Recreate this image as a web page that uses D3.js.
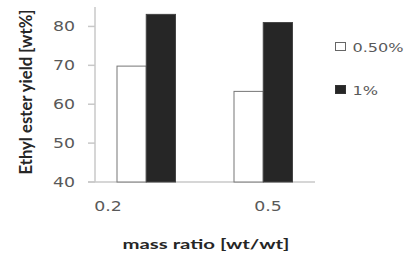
<!DOCTYPE html>
<html>
<head>
<meta charset="utf-8">
<script src="https://cdn.jsdelivr.net/npm/d3@7"></script>
<style>
  body { margin: 0; background: #fff; }
  text { font-family: "DejaVu Sans", Verdana, sans-serif; }
</style>
</head>
<body>
<div id="chart"></div>
<script>
var categories = ['0.2', '0.5'],
  seriesNames = ['0.50%', '1%'],
  seriesColors = ['#ffffff', '#262626'],
  half = [69.8, 63.3],
  one = [83.1, 81.0],
  yTicks = [40, 50, 60, 70, 80];

var width = 420,
  height = 264,
  stretch = 1.24;

var svg = d3.select('#chart')
  .append('svg')
  .attr('width', width)
  .attr('height', height);

var y = d3.scaleLinear().domain([40, 85]).range([182, 7]);

// bar groups
var x = d3.scaleBand().domain(categories).range([87.75, 321.75]).paddingInner(0.5).paddingOuter(0.25);
var xs = d3.scaleBand().domain(seriesNames).range([0, x.bandwidth()]);

// category labels sit further left than the bars in the original
var xLabel = d3.scalePoint().domain(categories).range([108, 268]);

// axes lines
svg.append('line')
  .attr('x1', 95).attr('x2', 95)
  .attr('y1', y(85)).attr('y2', y(40))
  .style('stroke', '#c8c8c8').style('stroke-width', 1.5);

svg.append('line')
  .attr('x1', 88).attr('x2', 315)
  .attr('y1', y(40)).attr('y2', y(40))
  .style('stroke', '#c8c8c8').style('stroke-width', 1.5);

var yAxis = svg.append('g');
yAxis.selectAll('line')
  .data(yTicks)
  .enter()
  .append('line')
  .attr('x1', 88).attr('x2', 95)
  .attr('y1', function (d) { return y(d); })
  .attr('y2', function (d) { return y(d); })
  .style('stroke', '#c8c8c8').style('stroke-width', 1.5);

yAxis.selectAll('text')
  .data(yTicks)
  .enter()
  .append('text')
  .attr('transform', function (d) { return 'translate(75,' + y(d) + ') scale(' + stretch + ',1)'; })
  .attr('dy', '0.36em')
  .attr('text-anchor', 'end')
  .style('font-size', '14px')
  .style('fill', '#595959')
  .text(function (d) { return d; });

svg.append('g').selectAll('text')
  .data(categories)
  .enter()
  .append('text')
  .attr('transform', function (d) { return 'translate(' + xLabel(d) + ',211) scale(' + stretch + ',1)'; })
  .attr('text-anchor', 'middle')
  .style('font-size', '14px')
  .style('fill', '#595959')
  .text(function (d) { return d; });

// bars
var rows = categories.map(function (c, i) {
  return [{cat: c, s: seriesNames[0], v: half[i]}, {cat: c, s: seriesNames[1], v: one[i]}];
});

var groups = svg.append('g').selectAll('g')
  .data(rows)
  .enter()
  .append('g')
  .attr('transform', function (d) { return 'translate(' + x(d[0].cat) + ',0)'; });

groups.selectAll('rect')
  .data(function (d) { return d; })
  .enter()
  .append('rect')
  .attr('x', function (d) { return xs(d.s); })
  .attr('width', xs.bandwidth())
  .attr('y', function (d) { return y(d.v); })
  .attr('height', function (d) { return y(40) - y(d.v); })
  .style('fill', function (d) { return seriesColors[seriesNames.indexOf(d.s)]; })
  .style('stroke', function (d) { return d.s === '1%' ? '#444' : '#777'; })
  .style('stroke-width', 1);

// legend
var legend = svg.append('g').selectAll('g')
  .data(seriesNames)
  .enter()
  .append('g')
  .attr('transform', function (d, i) { return 'translate(335.5,' + (42.5 + i * 43) + ')'; });

legend.append('rect')
  .attr('width', 10).attr('height', 8)
  .style('fill', function (d, i) { return seriesColors[i]; })
  .style('stroke', function (d, i) { return i ? '#333' : '#666'; });

legend.append('text')
  .attr('transform', 'translate(17,9) scale(' + stretch + ',1)')
  .style('font-size', '13px')
  .style('fill', '#595959')
  .text(function (d) { return d; });

// axis titles
svg.append('text')
  .attr('x', 206).attr('y', 249)
  .attr('text-anchor', 'middle')
  .attr('textLength', 167)
  .attr('lengthAdjust', 'spacingAndGlyphs')
  .style('font-family', 'Lato, "Open Sans", sans-serif')
  .style('font-size', '14px')
  .style('font-weight', 'bold')
  .style('fill', '#262626')
  .text('mass ratio [wt/wt]');

svg.append('text')
  .attr('transform', 'translate(26,92) scale(' + stretch + ',1) rotate(-90)')
  .attr('dy', '0.36em')
  .attr('text-anchor', 'middle')
  .attr('textLength', 165)
  .attr('lengthAdjust', 'spacingAndGlyphs')
  .style('font-family', 'Lato, "Open Sans", sans-serif')
  .style('font-size', '13px')
  .style('font-weight', 'bold')
  .style('fill', '#262626')
  .text('Ethyl ester yield [wt%]');
</script>
</body>
</html>
